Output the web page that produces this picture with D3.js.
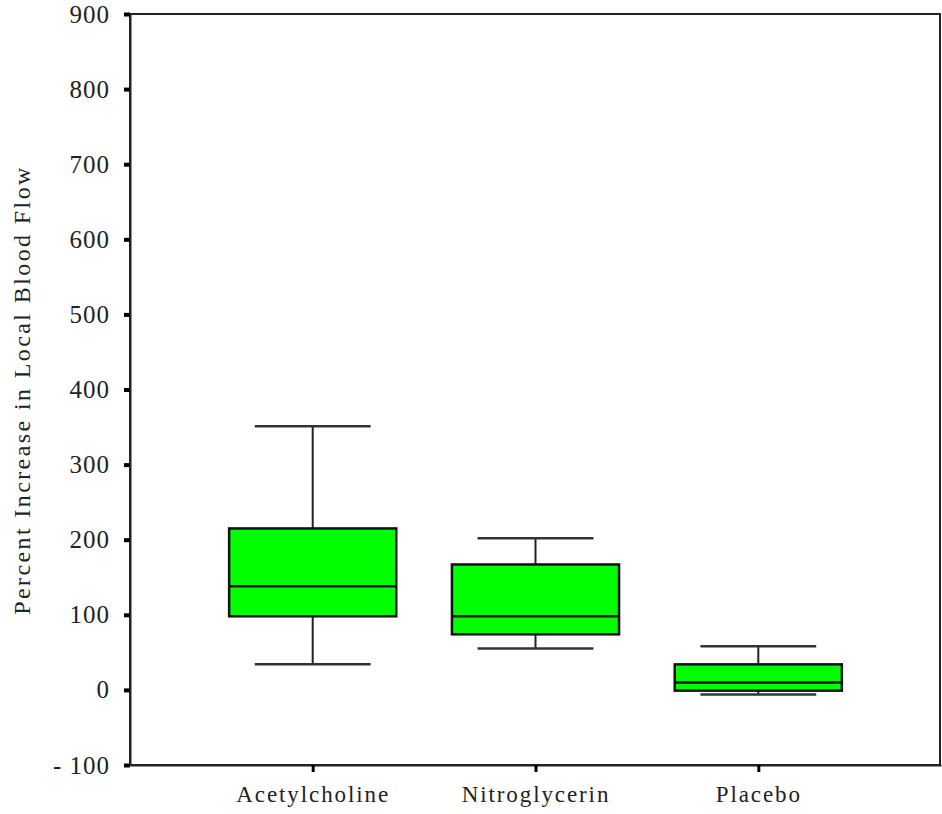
<!DOCTYPE html>
<html>
<head>
<meta charset="utf-8">
<script src="https://cdn.jsdelivr.net/npm/d3@7"></script>
<style>
  body { margin: 0; background: #fff; }
  svg text { font-family: "Liberation Serif", "Times New Roman", serif; fill: #222; }
</style>
</head>
<body>
<script>
  var w = 942,
      h = 814;

  // box plot stats
  var groups = ["Acetylcholine", "Nitroglycerin", "Placebo"],
      whiskerLow = [34, 55, -6],
      q1 = [98, 74, -1],
      median = [138, 98, 10],
      q3 = [215, 167, 34],
      whiskerHigh = [351, 202, 58];

  var yTicks = [-100, 0, 100, 200, 300, 400, 500, 600, 700, 800, 900];

  var margin = { top: 14, right: 1, bottom: 49, left: 130 };

  var svg = d3.select("body").append("svg")
    .attr("width", w)
    .attr("height", h);

  var x = d3.scalePoint()
    .domain(groups)
    .range([margin.left, w - margin.right])
    .padding(0.82);

  var y = d3.scaleLinear()
    .domain([-100, 900])
    .range([h - margin.bottom, margin.top]);

  var step = x.step(),
      boxW = step * 0.75,
      capW = step * 0.52;

  var rows = groups.map(function(g, i) {
    return { name: g, lo: whiskerLow[i], q1: q1[i], med: median[i], q3: q3[i], hi: whiskerHigh[i] };
  });

  // frame
  svg.append("rect")
    .attr("x", margin.left)
    .attr("y", margin.top)
    .attr("width", w - margin.left - margin.right - 1)
    .attr("height", h - margin.top - margin.bottom)
    .attr("fill", "none")
    .attr("stroke", "#222")
    .attr("stroke-width", 2);

  // axes
  var yAxis = svg.append("g")
    .attr("transform", "translate(" + margin.left + ",0)")
    .call(d3.axisLeft(y).tickValues(yTicks).tickSizeInner(6).tickSizeOuter(0).tickPadding(14)
      .tickFormat(function(d) { return d < 0 ? "- " + (-d) : String(d); }));

  yAxis.select(".domain").attr("stroke", "#222").attr("stroke-width", 2);
  yAxis.selectAll(".tick line").attr("stroke", "#000").attr("stroke-width", 4);
  yAxis.selectAll(".tick text")
    .attr("font-size", 25)
    .attr("letter-spacing", 1)
    .style("font-family", "'Liberation Serif', serif")
    .attr("fill", "#222");

  var xAxis = svg.append("g")
    .attr("transform", "translate(0," + (h - margin.bottom) + ")")
    .call(d3.axisBottom(x).tickSizeInner(7).tickSizeOuter(0).tickPadding(14));

  xAxis.select(".domain").attr("stroke", "#222").attr("stroke-width", 2);
  xAxis.selectAll(".tick line").attr("stroke", "#000").attr("stroke-width", 3);
  xAxis.selectAll(".tick text")
    .attr("font-size", 23)
    .attr("letter-spacing", 1.9)
    .style("font-family", "'Liberation Serif', serif")
    .attr("fill", "#222");

  // boxes
  var box = svg.selectAll("g.box")
    .data(rows)
    .enter().append("g")
      .attr("class", "box");

  box.append("line")
    .attr("x1", function(d) { return x(d.name); })
    .attr("x2", function(d) { return x(d.name); })
    .attr("y1", function(d) { return y(d.hi); })
    .attr("y2", function(d) { return y(d.lo); })
    .attr("stroke", "#222")
    .attr("stroke-width", 2);

  box.selectAll("line.cap")
    .data(function(d) { return [d, d].map(function(r, k) { return { name: r.name, v: k ? r.lo : r.hi }; }); })
    .enter().append("line")
      .attr("class", "cap")
      .attr("x1", function(d) { return x(d.name) - capW / 2; })
      .attr("x2", function(d) { return x(d.name) + capW / 2; })
      .attr("y1", function(d) { return y(d.v); })
      .attr("y2", function(d) { return y(d.v); })
      .attr("stroke", "#333")
      .attr("stroke-width", 2.5);

  box.append("rect")
    .attr("x", function(d) { return x(d.name) - boxW / 2; })
    .attr("y", function(d) { return y(d.q3); })
    .attr("width", boxW)
    .attr("height", function(d) { return y(d.q1) - y(d.q3); })
    .attr("fill", "#00ff00")
    .attr("stroke", "#111")
    .attr("stroke-width", 2.5);

  box.append("line")
    .attr("x1", function(d) { return x(d.name) - boxW / 2; })
    .attr("x2", function(d) { return x(d.name) + boxW / 2; })
    .attr("y1", function(d) { return y(d.med); })
    .attr("y2", function(d) { return y(d.med); })
    .attr("stroke", "#111")
    .attr("stroke-width", 2.5);

  // y title
  svg.append("text")
    .attr("transform", "translate(30," + (margin.top + 376) + ")rotate(-90)")
    .attr("text-anchor", "middle")
    .attr("font-size", 24)
    .attr("letter-spacing", 2.4)
    .attr("fill", "#222")
    .text("Percent Increase in Local Blood Flow");
</script>
</body>
</html>
